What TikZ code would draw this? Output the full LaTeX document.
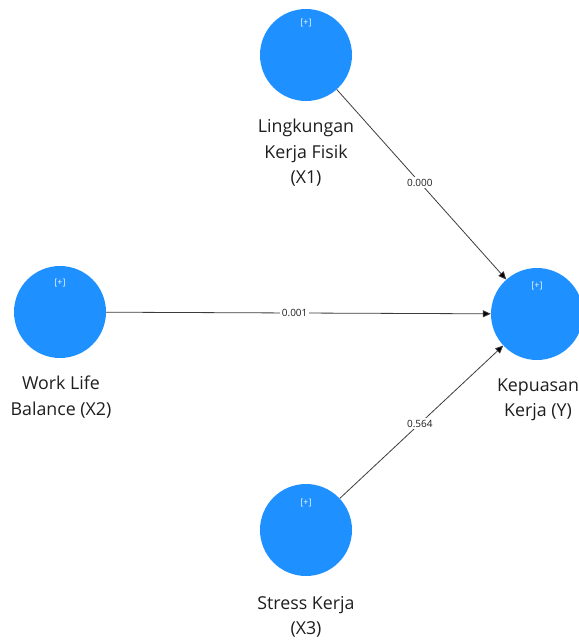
\documentclass[tikz,border=0pt]{standalone}
\usepackage{fontspec}
\setmainfont{Open Sans}
\usetikzlibrary{arrows.meta}
\definecolor{lvblue}{RGB}{30,144,255}
\definecolor{txtcol}{RGB}{30,30,30}
\definecolor{edgecol}{RGB}{60,60,60}
\begin{document}
\begin{tikzpicture}[x=1pt,y=-1pt,
  lv/.style={circle,fill=lvblue,draw=none,minimum size=92pt,inner sep=0pt},
  plusmark/.style={text=white!95!lvblue,font=\fontsize{9}{10}\selectfont,inner sep=0pt},
  lvlabel/.style={text=txtcol,font=\fontsize{17.8}{25.5}\selectfont,align=center,inner sep=0pt},
  pathedge/.style={draw=edgecol,line width=0.8pt,-{Triangle[length=8pt,width=7pt,fill=black]}},
  coef/.style={fill=white,text=txtcol,font=\fontsize{10}{11}\selectfont,inner sep=1.5pt,pos=0.49}]
\useasboundingbox (0,0) rectangle (578,642);
% constructs
\node[lv] (x1) at (306,55) {};
\node[lv] (x2) at (60,312) {};
\node[lv] (x3) at (306,530) {};
\node[lv] (y) at (537,314) {};
% [+] markers
\node[plusmark] (p1) at (306,23) {[+]};
\node[plusmark] (p2) at (60,283) {[+]};
\node[plusmark] (p3) at (306,503) {[+]};
\node[plusmark] (p4) at (537,286) {[+]};
% labels
\node[lvlabel] (n1) at (306,153) {Lingkungan\\Kerja Fisik\\(X1)};
\begin{scope}
\clip (0,360) rectangle (111,430);
\node[lvlabel] (n2) at (61,397) {Work Life\\Balance (X2)};
\end{scope}
\node[lvlabel] (n3) at (306,617) {Stress Kerja\\(X3)};
\node[lvlabel] (n4) at (538,400) {Kepuasan\\Kerja (Y)};
% paths
\draw[pathedge] (x1) -- node[coef] (c1) {0.000} (y);
\draw[pathedge] (x2) -- node[coef] (c2) {0.001} (y);
\draw[pathedge] (x3) -- node[coef] (c3) {0.564} (y);
\end{tikzpicture}
\end{document}
